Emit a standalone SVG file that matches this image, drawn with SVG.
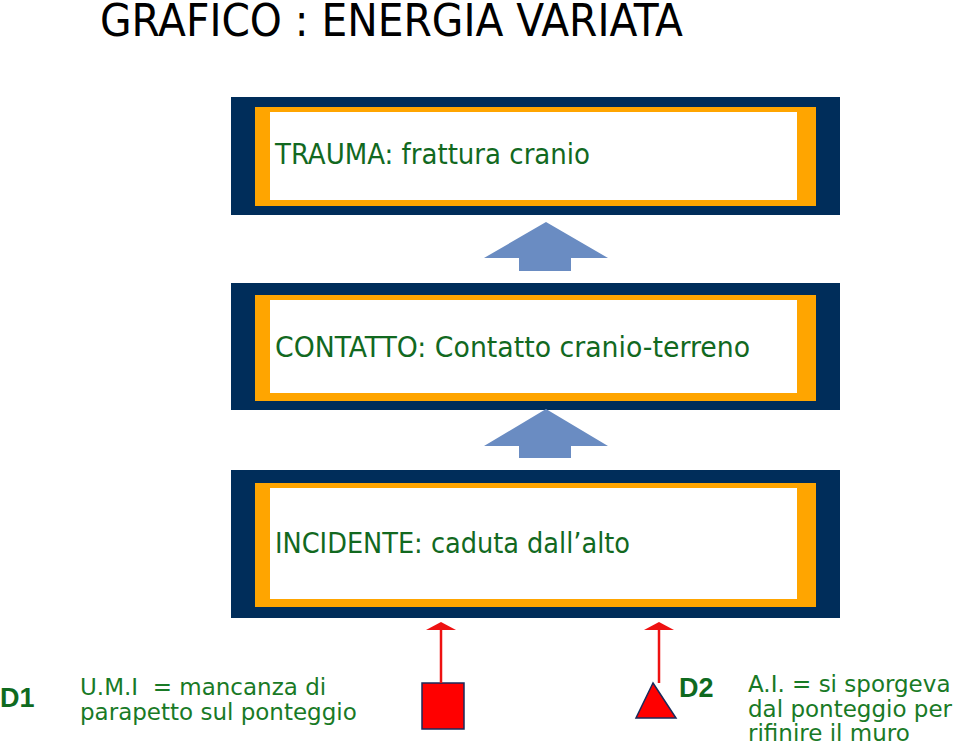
<svg xmlns="http://www.w3.org/2000/svg" width="960" height="746" viewBox="0 0 960 746">
<style>
.navy{fill:#002d5a}
.orange{fill:#ffa500}
.white{fill:#ffffff}
.cond{font-family:"DejaVu Sans Condensed","DejaVu Sans",sans-serif;font-stretch:condensed}
.boxtxt{font-size:28.5px;fill:#12691f}
.note{font-family:"DejaVu Sans",Verdana,sans-serif;font-size:23px;fill:#197a26;white-space:pre}
.tag{font-family:"Liberation Sans",Arial,sans-serif;font-weight:bold;font-size:27px;fill:#0f6a1f}
.blk{fill:#6a8cc2}
.red{stroke:#ee1111;stroke-width:2.5;fill:none}
.redhead{fill:#ee1111}
</style>
<rect width="960" height="746" fill="#ffffff"/>
<text class="cond" x="100" y="36" font-size="45" fill="#000" textLength="583" lengthAdjust="spacingAndGlyphs">GRAFICO : ENERGIA VARIATA</text>

<g id="trauma">
<rect class="navy" x="231" y="97" width="609" height="118"/>
<rect class="orange" x="255" y="107" width="561" height="99"/>
<rect class="white" x="270" y="112" width="527" height="88"/>
<text class="cond boxtxt" x="275" y="164" textLength="315" lengthAdjust="spacingAndGlyphs">TRAUMA: frattura cranio</text>
</g>

<g id="contatto">
<rect class="navy" x="231" y="283" width="609" height="127"/>
<rect class="orange" x="255" y="295" width="561" height="106"/>
<rect class="white" x="270" y="300" width="527" height="93"/>
<text class="cond boxtxt" x="275" y="357" textLength="475" lengthAdjust="spacingAndGlyphs">CONTATTO: Contatto cranio-terreno</text>
</g>

<g id="incidente">
<rect class="navy" x="231" y="470" width="609" height="148"/>
<rect class="orange" x="255" y="483" width="561" height="124"/>
<rect class="white" x="270" y="488" width="527" height="111"/>
<text class="cond boxtxt" x="275" y="553" textLength="355" lengthAdjust="spacingAndGlyphs">INCIDENTE: caduta dall’alto</text>
</g>

<g id="d1">
<text class="tag" x="0" y="707">D1</text>
<text class="note" x="80" y="695" xml:space="preserve">U.M.I  = mancanza di</text>
<text class="note" x="80" y="720">parapetto sul ponteggio</text>
<rect x="422" y="683" width="42" height="46" fill="#ff0000" stroke="#1a2a5a" stroke-width="1.5"/>
</g>

<g id="d2">
<polygon points="653,683 676,718 636,718" fill="#ff0000" stroke="#1a2a5a" stroke-width="1.5"/>
<text class="tag" x="679" y="697" font-size="28">D2</text>
<text class="note" x="748" y="692">A.I. = si sporgeva</text>
<text class="note" x="748" y="717">dal ponteggio per</text>
<text class="note" x="748" y="741">rifinire il muro</text>
</g>

<g id="connectors">
<polygon class="blk" points="546,222 608,258 571,258 571,271 519,271 519,258 484,258"/>
<polygon class="blk" points="546,409 608,446 571,446 571,458 519,458 519,446 484,446"/>
<line class="red" x1="441" y1="683" x2="441" y2="628"/>
<polygon class="redhead" points="441,622 456,630 426,630"/>
<line class="red" x1="659" y1="683" x2="659" y2="628"/>
<polygon class="redhead" points="659,622 674,630 644,630"/>
</g>
</svg>
